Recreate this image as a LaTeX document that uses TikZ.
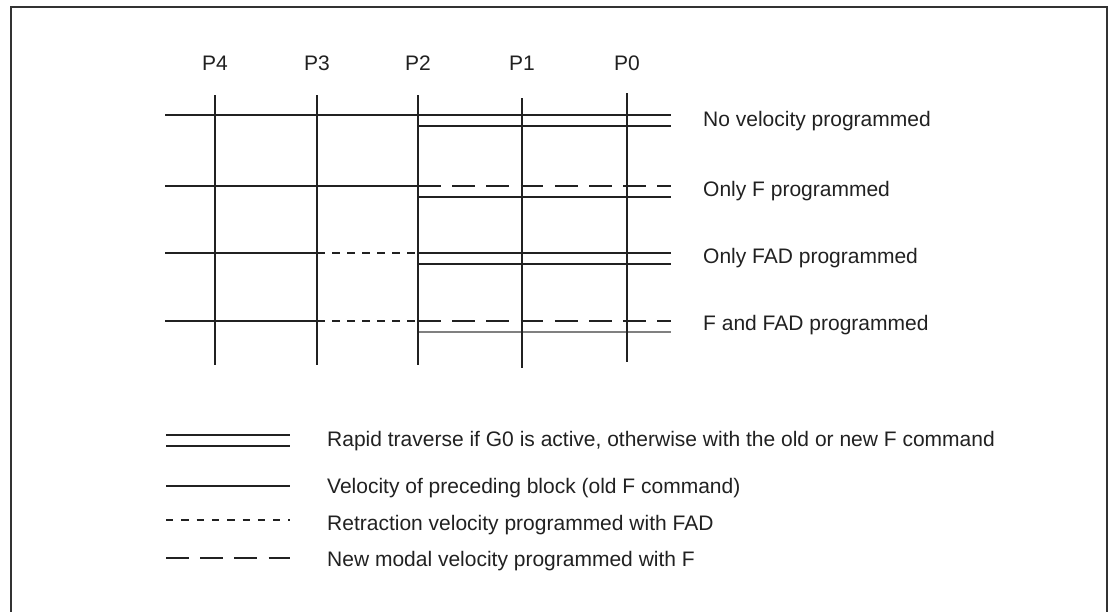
\documentclass[tikz,border=0pt]{standalone}
\usepackage{fontspec}
\setmainfont{Liberation Sans}
\begin{document}
\begin{tikzpicture}[x=1pt,y=-1pt,
  ink/.style={draw=black!87},
  mainln/.style={ink,line width=2pt},
  thinln/.style={ink,line width=1.3pt},
  greyln/.style={draw=black!50,line width=1.4pt},
  fadln/.style={mainln,dash pattern=on 7.5pt off 7.5pt},
  fln/.style={mainln,dash pattern=on 22.7pt off 11.5pt},
  vline/.style={ink,line width=2pt},
  txt/.style={font=\fontsize{21}{25}\selectfont,text=black!87,inner sep=0pt},
  frameln/.style={draw=black!80,line width=1.8pt}]
\useasboundingbox (0,0) rectangle (1113,611);
\fill[white] (0,0) rectangle (1113,611);
% frame (open at the bottom, beyond the picture)
\coordinate (fbl) at (11,640);
\coordinate (ftl) at (11,7);
\coordinate (ftr) at (1107,7);
\coordinate (fbr) at (1107,640);
\draw[frameln] (fbl) -- (ftl) -- (ftr) -- (fbr);

% column positions
\foreach \n/\x/\t/\b in {P4/215/95/365, P3/317/95/365, P2/418/95/365, P1/522/98/368, P0/627/93/362}{
  \coordinate (\n t) at (\x,\t);
  \coordinate (\n b) at (\x,\b);
  \node[txt,anchor=base] (lab\n) at (\x,70) {\n};
}
% row end points
\foreach \r/\y/\yy in {1/114.5/126, 2/186/197, 3/253/264, 4/321/332}{
  \coordinate (L\r) at (165,\y);
  \coordinate (A\r) at (317,\y);
  \coordinate (B\r) at (418,\y);
  \coordinate (R\r) at (671,\y);
  \coordinate (B\r s) at (418,\yy);
  \coordinate (R\r s) at (671,\yy);
}

% row 1: no velocity programmed
\draw[mainln] (L1) -- (R1);
\draw[mainln] (B1s) -- (R1s);
% row 2: only F programmed
\draw[mainln] (L2) -- (B2);
\draw[fln] (B2) -- (R2);
\draw[thinln] (B2s) -- (R2s);
% row 3: only FAD programmed
\draw[mainln] (L3) -- (A3);
\draw[fadln,dash phase=11.5pt] (B3) -- (A3);
\draw[mainln] (B3) -- (R3);
\draw[thinln] (B3s) -- (R3s);
% row 4: F and FAD programmed
\draw[mainln] (L4) -- (A4);
\draw[fadln,dash phase=11.5pt] (B4) -- (A4);
\draw[fln] (B4) -- (R4);
\draw[greyln] (B4s) -- (R4s);

% verticals
\foreach \n in {P4,P3,P2,P1,P0}{
  \draw[vline] (\n t) -- (\n b);
}

% row texts
\node[txt,anchor=base west] (t1) at (703,126) {No velocity programmed};
\node[txt,anchor=base west] (t2) at (703,196.7) {Only F programmed};
\node[txt,anchor=base west] (t3) at (703,263) {Only FAD programmed};
\node[txt,anchor=base west] (t4) at (703,330.7) {F and FAD programmed};

% legend
\coordinate (g1a) at (166,435); \coordinate (g1b) at (290,435);
\coordinate (g1c) at (166,446); \coordinate (g1d) at (290,446);
\coordinate (g2a) at (166,486); \coordinate (g2b) at (290,486);
\coordinate (g3a) at (166,520); \coordinate (g3b) at (290,520);
\coordinate (g4a) at (166,558); \coordinate (g4b) at (290,558);
\draw[mainln] (g1a) -- (g1b);
\draw[thinln,line width=1.5pt] (g1c) -- (g1d);
\draw[mainln] (g2a) -- (g2b);
\draw[mainln,dash pattern=on 7.3pt off 8pt] (g3a) -- (g3b);
\draw[fln] (g4a) -- (g4b);
\node[txt,anchor=base west] (k1) at (327,446) {Rapid traverse if G0 is active, otherwise with the old or new F command};
\node[txt,anchor=base west] (k2) at (327,493) {Velocity of preceding block (old F command)};
\node[txt,anchor=base west] (k3) at (327,530) {Retraction velocity programmed with FAD};
\node[txt,anchor=base west] (k4) at (327,566) {New modal velocity programmed with F};
\end{tikzpicture}
\end{document}
